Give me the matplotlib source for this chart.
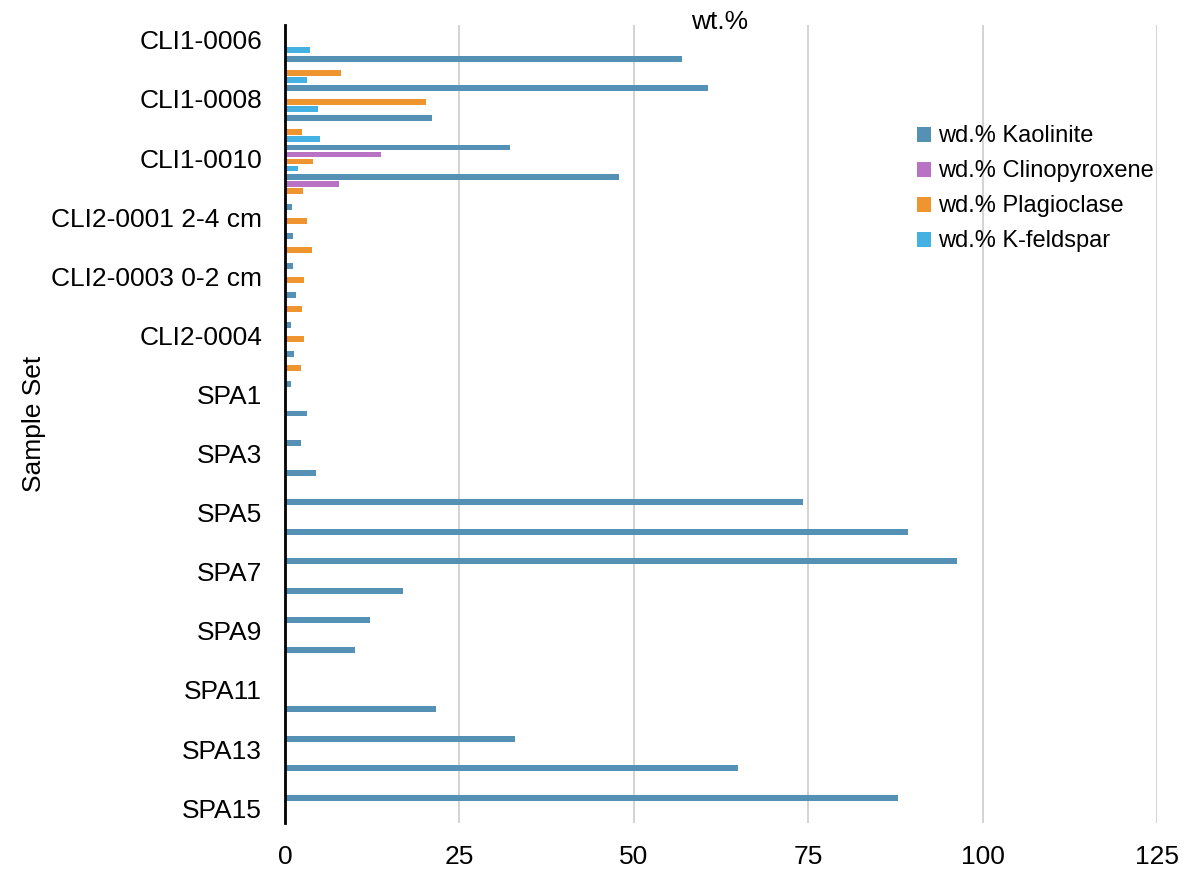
import numpy as np
import matplotlib.pyplot as plt

plt.rcParams['font.family'] = ['Liberation Sans', 'DejaVu Sans']

# categories top to bottom (every other label shown in the original)
samples = ['CLI1-0006', 'CLI1-0007', 'CLI1-0008', 'CLI1-0009', 'CLI1-0010', 'CLI1-0011',
           'CLI2-0001 2-4 cm', 'CLI2-0002', 'CLI2-0003 0-2 cm', 'CLI2-0003 2-4 cm',
           'CLI2-0004', 'CLI2-0005', 'SPA1', 'SPA2', 'SPA3', 'SPA4', 'SPA5', 'SPA6',
           'SPA7', 'SPA8', 'SPA9', 'SPA10', 'SPA11', 'SPA12', 'SPA13', 'SPA14', 'SPA15']

kaolinite = [0, 56.9, 60.6, 21.1, 32.3, 47.9, 1.0, 1.1, 1.1, 1.6, 0.9, 1.3, 0.9, 3.1,
             2.3, 4.4, 74.3, 89.3, 96.3, 16.9, 12.2, 10.1, 0, 21.7, 33.0, 64.9, 87.8]
clinopyroxene = [0, 0, 0, 0, 13.8, 7.7, 0, 0, 0, 0, 0, 0, 0, 0,
                 0, 0, 0, 0, 0, 0, 0, 0, 0, 0, 0, 0, 0]
plagioclase = [0, 8.0, 20.2, 2.4, 4.0, 2.6, 3.2, 3.9, 2.7, 2.4, 2.7, 2.3, 0, 0,
               0, 0, 0, 0, 0, 0, 0, 0, 0, 0, 0, 0, 0]
kfeldspar = [3.6, 3.2, 4.8, 5.0, 1.8, 0, 0, 0, 0, 0, 0, 0, 0, 0,
             0, 0, 0, 0, 0, 0, 0, 0, 0, 0, 0, 0, 0]

series = [('wd.% Kaolinite', kaolinite, '#5591b4'),
          ('wd.% Clinopyroxene', clinopyroxene, '#b873c5'),
          ('wd.% Plagioclase', plagioclase, '#ee9530'),
          ('wd.% K-feldspar', kfeldspar, '#45b0e2')]

fig = plt.figure(figsize=(11.9, 8.72), dpi=100)
ax = fig.add_axes([0.2395, 0.0562, 0.7328, 0.9151])

y = np.arange(len(samples))
pitch = 0.237
for i, (name, vals, col) in enumerate(series):
    ax.barh(y + (i - 1.5) * pitch, vals, height=0.2, color=col, label=name)

ax.set_ylim(len(samples) - 0.5, -0.5)
ax.set_xlim(0, 125)
ax.set_xticks([0, 25, 50, 75, 100, 125])
ax.set_yticks(y[::2])
ax.set_yticklabels(samples[::2])
ax.tick_params(axis='both', length=0, labelsize=19)
ax.tick_params(axis='y', pad=16.5)
ax.tick_params(axis='x', pad=16)

ax.grid(axis='x', color='#d0d0d0', linewidth=1.3)
ax.set_axisbelow(True)
for s in ['top', 'right', 'bottom']:
    ax.spines[s].set_visible(False)
ax.spines['left'].set_linewidth(2)
ax.spines['left'].set_zorder(5)

ax.set_ylabel('Sample Set', fontsize=19, labelpad=4)
fig.text(0.605, 0.975, 'wt.%', fontsize=19, ha='center', va='center')

ax.legend(loc='upper left', bbox_to_anchor=(0.714, 0.886), frameon=False,
          fontsize=17, handlelength=0.6, handleheight=0.6, handletextpad=0.27,
          labelspacing=0.55, borderaxespad=0)

fig.savefig('out.png', dpi=100)
